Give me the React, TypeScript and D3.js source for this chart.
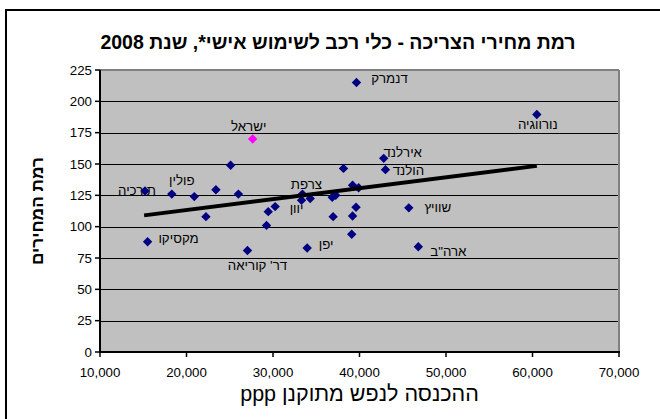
import React from "react";
import * as d3 from "d3";

const countries = ["תורכיה","פולין","","","","","ישראל","מקסיקו","","דר' קוריאה","","","","יפן","דנמרק","אירלנד","הולנד","","","","","","צרפת","","יוון","","","","","שוויץ","ארה\"ב","נורווגיה"];
const income = [15200,18300,20900,23400,25100,26000,27650,15500,22250,27050,29250,29450,30250,33950,39650,42800,43000,38150,39200,39900,36850,37250,33400,34300,33300,36950,39600,39200,39100,45700,46800,60500];
const prices = [128.5,126,124,129.5,149,126,170,88,108,81,101,112,116,83,215,154.5,145.5,146.5,133,131,123.5,125,126,122.5,121,108,115.5,108.5,94,115,84,189.5];
const highlight = "ישראל";
const trendX = [15100, 60500];
const trendY = [109, 148.5];
const xTicks = [10000,20000,30000,40000,50000,60000,70000];
const yTicks = [0,25,50,75,100,125,150,175,200,225];
const title = "רמת מחירי הצריכה - כלי רכב לשימוש אישי*, שנת 2008";
const xTitle = "ההכנסה לנפש מתוקנן ppp";
const yTitle = "רמת המחירים";

// label offsets (style), keyed by name
const labelOffsets: Record<string, [number, number]> = {
  "תורכיה": [-8, 0],
  "פולין": [10, -14],
  "ישראל": [-4, -12],
  "מקסיקו": [31, -3],
  "דר' קוריאה": [10, 15],
  "יפן": [19, -3],
  "דנמרק": [33, -4],
  "אירלנד": [19, -6],
  "הולנד": [23, 1],
  "צרפת": [4, -10],
  "יוון": [-5, 8],
  "שוויץ": [29, 0],
  "ארה\"ב": [30, 5],
  "נורווגיה": [1, 10],
};

const FONT = "'Liberation Sans', Arial, sans-serif";
const R = 4.7;
const diamond = `M0,${-R}L${R},0L0,${R}L${-R},0Z`;

export default function App() {
  const W = 660, H = 419;
  const left = 100, right = 619, top = 70, bottom = 352;
  const x = d3.scaleLinear().domain([10000, 70000]).range([left, right]);
  const y = d3.scaleLinear().domain([0, 225]).range([bottom, top]);
  const fmt = d3.format(",");
  const line = d3.line<number>().x((d) => x(trendX[d])).y((d) => y(trendY[d]));

  return (
    <div style={{ position: "fixed", left: 0, top: 0 }}>
      <svg width={W} height={H} style={{ display: "block", fontFamily: FONT }}>
        <rect x={0} y={0} width={W} height={H} fill="#fff" />
        <rect x={6} y={10} width={700} height={500} fill="#fff" stroke="#000" strokeWidth={2} />
        <text x={338} y={49} textAnchor="middle" direction="rtl" fontSize={19.5} fontWeight="bold" fill="#000">{title}</text>
        {/* plot area */}
        <rect x={left} y={top} width={right - left} height={bottom - top} fill="#C0C0C0" />
        {yTicks.filter((t) => t > 0 && t < 225).map((t) => (
          <line key={"g" + t} x1={left} x2={right} y1={Math.round(y(t)) + 0.5} y2={Math.round(y(t)) + 0.5} stroke="#000" strokeWidth={1} />
        ))}
        <line x1={left} x2={right} y1={top} y2={top} stroke="#808080" strokeWidth={2} />
        <line x1={right} x2={right} y1={top} y2={bottom} stroke="#808080" strokeWidth={2} />
        {/* labels */}
        {countries.map((c, i) => c ? (
          <text key={"l" + i} x={x(income[i]) + labelOffsets[c][0]} y={y(prices[i]) + labelOffsets[c][1] + 4.5}
            textAnchor="middle" direction="rtl" fontSize={13.3} fill="#000">{c}</text>
        ) : null)}
        {/* markers */}
        {countries.map((c, i) => (
          <path key={"m" + i} d={diamond} transform={`translate(${x(income[i])},${y(prices[i])})`}
            fill={c === highlight ? "#FF00FF" : "#000080"} />
        ))}
        {/* trendline */}
        <path d={line([0, 1]) || ""} fill="none" stroke="#000" strokeWidth={4} />
        {/* axes */}
        <line x1={left} x2={left} y1={top} y2={bottom + 1} stroke="#000" strokeWidth={2} />
        <line x1={left - 1} x2={right + 1} y1={bottom} y2={bottom} stroke="#000" strokeWidth={2} />
        {yTicks.map((t) => (
          <g key={"y" + t}>
            <line x1={left - 5} x2={left} y1={y(t)} y2={y(t)} stroke="#000" strokeWidth={1.5} />
            <text x={92} y={y(t) + 4.7} textAnchor="end" fontSize={13.3} fill="#000">{t}</text>
          </g>
        ))}
        {xTicks.map((t) => (
          <g key={"x" + t}>
            <line x1={x(t)} x2={x(t)} y1={bottom} y2={bottom + 5} stroke="#000" strokeWidth={1.5} />
            <text x={x(t)} y={377} textAnchor="middle" fontSize={13.3} fill="#000">{fmt(t)}</text>
          </g>
        ))}
        <text x={(left + right) / 2} y={401} textAnchor="middle" direction="rtl" fontSize={21.5} fill="#000">{xTitle}</text>
        <text transform={`translate(43,${(top + bottom) / 2}) rotate(-90)`} textAnchor="middle" direction="rtl" fontSize={17.3} fontWeight="bold" fill="#000">{yTitle}</text>
      </svg>
    </div>
  );
}
